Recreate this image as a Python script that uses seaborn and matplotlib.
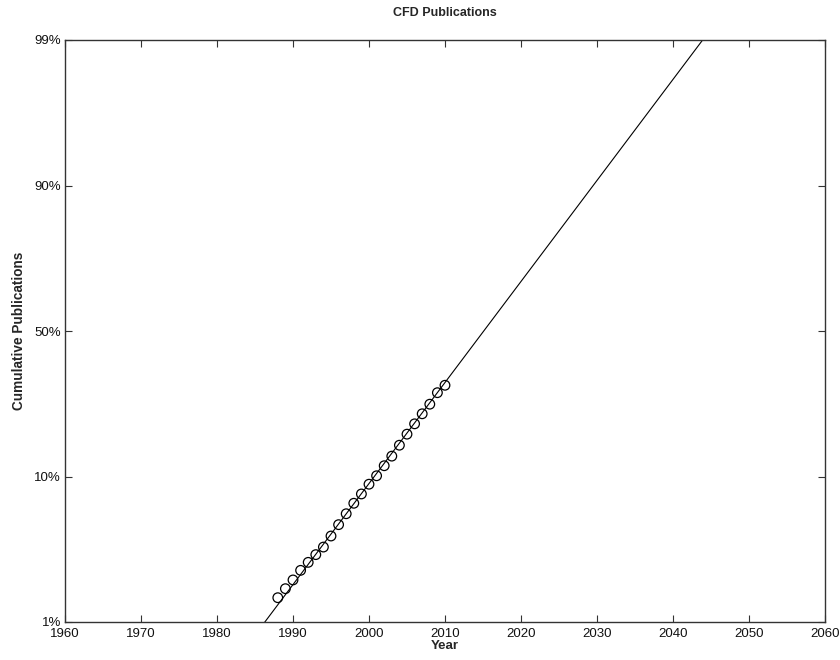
import matplotlib
matplotlib.use("Agg")
import matplotlib.pyplot as plt
import seaborn as sns
import pandas as pd

# Observed cumulative publications, on the probability-axis scale (0 = 1%, 4 = 99%)
years = list(range(1988, 2011))
cumulative_pos = [0.167, 0.229, 0.289, 0.355, 0.410, 0.463, 0.515, 0.591,
                  0.669, 0.744, 0.816, 0.880, 0.947, 1.005, 1.074, 1.140,
                  1.215, 1.291, 1.362, 1.431, 1.497, 1.576, 1.627]

# Fitted trend line end points
trend_years = [1960, 2060]
trend_pos = [-1.826, 5.118]

# Axis ticks
x_ticks = list(range(1960, 2061, 10))
y_tick_pos = [0, 1, 2, 3, 4]
y_tick_labels = ["1%", "10%", "50%", "90%", "99%"]

sns.set_style("white")
plt.rcParams["font.family"] = ["Liberation Sans", "DejaVu Sans"]

obs = pd.DataFrame({"Year": years, "pos": cumulative_pos})
trend = pd.DataFrame({"Year": trend_years, "pos": trend_pos})

fig = plt.figure(figsize=(8.4, 6.6), dpi=100)
ax = fig.add_axes([65 / 840, 38 / 660, 760 / 840, 582 / 660])

sns.lineplot(data=trend, x="Year", y="pos", ax=ax, color="black",
             linewidth=0.8, sort=False)
sns.scatterplot(data=obs, x="Year", y="pos", ax=ax, marker="o", s=48,
                facecolors="none", edgecolor="black", linewidth=0.9, zorder=3)

ax.set_xlim(1960, 2060)
ax.set_ylim(0, 4)
ax.set_xticks(x_ticks)
ax.set_xticklabels([str(t) for t in x_ticks])
ax.set_yticks(y_tick_pos)
ax.set_yticklabels(y_tick_labels)

ax.tick_params(direction="in", length=5, width=0.8, colors="#333333",
               labelcolor="#111111", labelsize=9.5, top=True, right=True,
               bottom=True, left=True)
ax.tick_params(axis="x", pad=4)
ax.tick_params(axis="y", pad=3)
ax.get_yticklabels()[0].set_verticalalignment("center_baseline")
for s in ax.spines.values():
    s.set_visible(True)
    s.set_color("#333333")
    s.set_linewidth(1.0)

ax.set_title("CFD Publications", fontsize=9, fontweight="bold", pad=17)
ax.set_xlabel("Year", fontsize=9.5, fontweight="bold", labelpad=0)
ax.set_ylabel("Cumulative Publications", fontsize=9.8, fontweight="bold",
              labelpad=6)

fig.savefig("out.png", dpi=100, facecolor="white")
